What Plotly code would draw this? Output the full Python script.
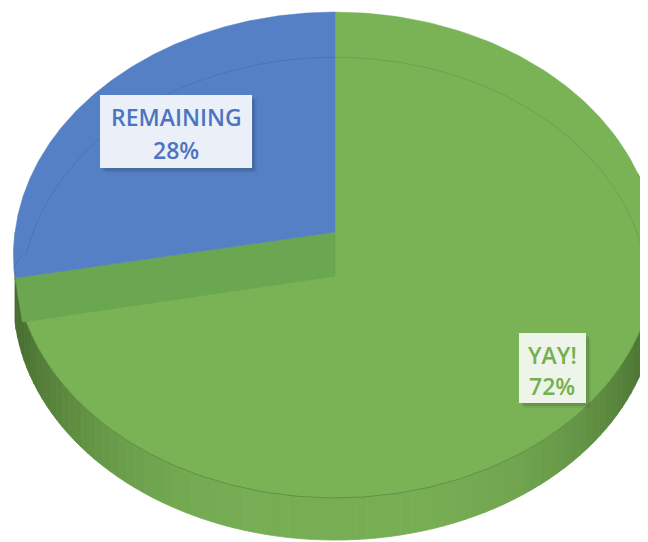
import numpy as np
import plotly.graph_objects as go

# ---- data ----
labels = ["YAY!", "REMAINING"]
values = [72, 28]
pct_text = ["72%", "28%"]
top_colors = ["#7AB356", "#5580C6"]
text_colors = ["#74B04C", "#4B74C2"]
box_colors = ["#EEF4EA", "#EBF0F8"]

# ---- 3D projection parameters (view geometry) ----
CX, CY = 335.0, 232.0
F = 2227.0
D = 6.96
ALPHA = np.radians(48.8)
H = 0.215
S, C = np.sin(ALPHA), np.cos(ALPHA)


def proj(u, v, h):
    u = np.asarray(u, float); v = np.asarray(v, float); h = np.asarray(h, float)
    depth = v * C + D - h * S
    x = F * u / depth
    y = F * (v * S + h * C) / depth
    return CX + x, CY - y


def rim(phi, h=0.0, r=1.0):
    return proj(r * np.cos(phi), r * np.sin(phi), np.full_like(phi, h))


total = float(sum(values))
blue_span = 2 * np.pi * values[1] / total
start_blue = np.pi / 2
end_blue = start_blue + blue_span

fig = go.Figure()

# ---- side wall of the green slice (front part), extruded straight down on screen ----
N = 100
phis = np.linspace(end_blue, 2 * np.pi + 0.25, N + 1)
light = np.array([120, 175, 85])
dark = np.array([66, 102, 44])
for i in range(N):
    a0, a1 = phis[i], phis[i + 1]
    seg = np.linspace(a0, a1, 4)
    xt, yt = rim(seg, 0.0)
    _, yb = rim(seg, -H)
    xb = xt[::-1]
    yb = yb[::-1]
    m = 0.5 * (a0 + a1)
    t = abs(np.cos(m)) ** 3
    col = light * (1 - t) + dark * t
    c = "rgb(%d,%d,%d)" % tuple(col.astype(int))
    fig.add_trace(go.Scatter(
        x=np.concatenate([xt, xb, xt[:1]]), y=np.concatenate([yt, yb, yt[:1]]),
        mode="lines", fill="toself", fillcolor=c, line=dict(color=c, width=0.8),
        hoverinfo="skip", showlegend=False))

ph = np.linspace(np.pi, 2 * np.pi, 200)
rx_, ry_ = rim(ph, 0.0)


def sector(a0, a1, h=0.0):
    ph = np.linspace(a0, a1, 200)
    xs, ys = rim(ph, h)
    cx, cy = proj(0, 0, h)
    return (np.concatenate([[cx], xs, [cx]]), np.concatenate([[cy], ys, [cy]]))

# green top face
gx, gy = sector(end_blue, start_blue + 2 * np.pi)
fig.add_trace(go.Scatter(x=gx, y=gy, mode="lines", fill="toself",
                         fillcolor=top_colors[0], line=dict(color=top_colors[0], width=0.5),
                         name=labels[0], hoverinfo="name", showlegend=False))
# darker rim line where the top meets the wall
fig.add_trace(go.Scatter(x=rx_, y=ry_, mode="lines", line=dict(color="rgba(60,100,40,0.45)", width=1),
                         hoverinfo="skip", showlegend=False))

# cut face of the green slice along the boundary
ex0, ey0 = rim(np.array([end_blue]), 0.0)
ex1, ey1 = rim(np.array([end_blue]), -H)
c0x, c0y = proj(0, 0, 0)
c1x, c1y = proj(0, 0, -H)
fig.add_trace(go.Scatter(
    x=[float(c0x), ex0[0], ex1[0], float(c1x), float(c0x)],
    y=[float(c0y), ey0[0], ey1[0], float(c1y), float(c0y)],
    mode="lines", fill="toself", fillcolor="#6BA651", line=dict(color="#6BA651", width=0.5),
    hoverinfo="skip", showlegend=False))

# blue top face
bx, by = sector(start_blue, end_blue)
fig.add_trace(go.Scatter(x=bx, y=by, mode="lines", fill="toself",
                         fillcolor=top_colors[1], line=dict(color=top_colors[1], width=0.5),
                         name=labels[1], hoverinfo="name", showlegend=False))

# faint inner rim line (far half of lower rim)
ph = np.linspace(-0.05, np.pi + 0.25, 200)
hh = -H * np.clip(np.sin(ph) * 4 + 0.6, 0, 1)
lx, ly = proj(np.cos(ph), np.sin(ph), hh)
fig.add_trace(go.Scatter(x=lx, y=ly, mode="lines", line=dict(color="rgba(0,0,0,0.10)", width=1),
                         hoverinfo="skip", showlegend=False))

# ---- labels ----
boxes = [
    dict(x0=519, x1=586, y0=333, y1=403, cx=552, l1=355, l2=386),
    dict(x0=100, x1=252, y0=95, y1=168, cx=176, l1=117, l2=150),
]
for i, b in enumerate(boxes):
    for k, op in [(5, 0.06), (3, 0.10)]:
        fig.add_shape(type="rect", x0=b["x0"] + k, x1=b["x1"] + k, y0=b["y0"] + k, y1=b["y1"] + k,
                      fillcolor="rgba(0,0,0,%g)" % op, line=dict(width=0), layer="above")
    fig.add_shape(type="rect", x0=b["x0"], x1=b["x1"], y0=b["y0"], y1=b["y1"],
                  fillcolor=box_colors[i], line=dict(width=0), layer="above")
    for txt, yy in [(labels[i], b["l1"]), (pct_text[i], b["l2"])]:
        fig.add_annotation(x=b["cx"], y=yy, text=txt, showarrow=False,
                           font=dict(family="Open Sans", size=23, weight=600, color=text_colors[i]))

# page body has an 8px margin: offset the axes so data units equal page pixels
OFF = 8
fig.update_layout(
    width=648 - OFF, height=542 - OFF, margin=dict(l=0, r=0, t=0, b=0),
    paper_bgcolor="white", plot_bgcolor="white",
    xaxis=dict(range=[OFF, 648], visible=False, fixedrange=True),
    yaxis=dict(range=[542, OFF], visible=False, fixedrange=True),
    showlegend=False,
)
fig.write_html("out.html")
